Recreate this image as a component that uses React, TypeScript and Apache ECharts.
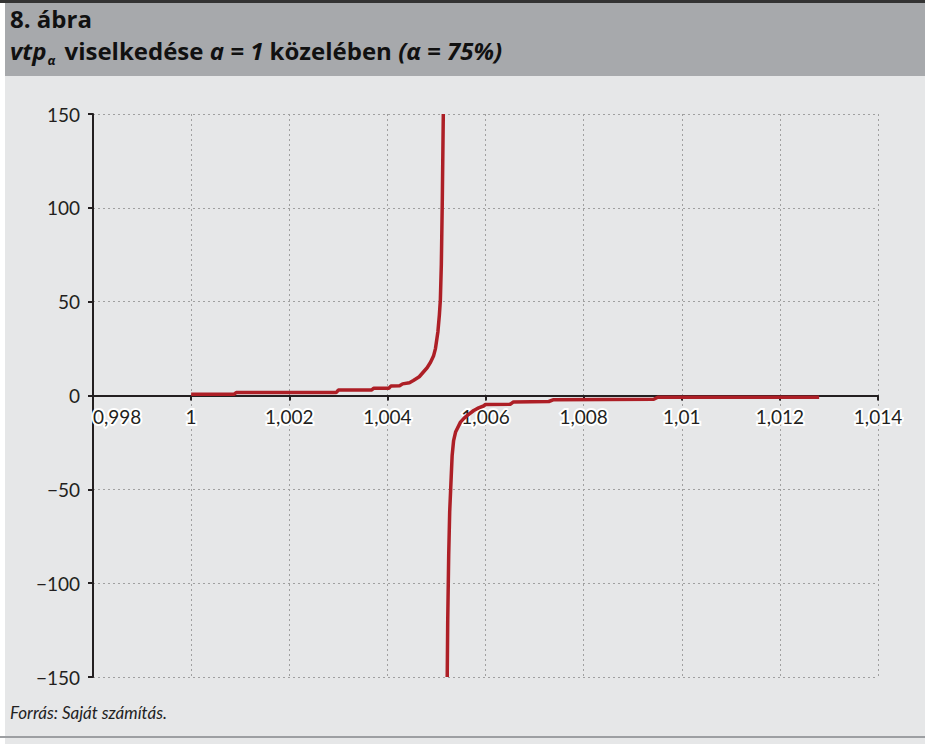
import React, { useEffect, useRef } from "react";
import * as echarts from "echarts";

const xTickMin = 0.998;
const xTickMax = 1.014;
const xTickStep = 0.002;
const yTickMin = -150;
const yTickMax = 150;
const yTickStep = 50;

// branch left of the pole (a < ~1.00515)
const upX = [1.0, 1.00088, 1.00092, 1.00296, 1.003, 1.00368, 1.00372, 1.00403, 1.00407, 1.00425, 1.00431, 1.00445, 1.00453, 1.00465, 1.00473, 1.00481, 1.00488, 1.00494, 1.00498, 1.00503, 1.00506, 1.00508, 1.0051, 1.00512, 1.00514];
const upY = [0.7, 0.7, 1.6, 1.6, 2.9, 2.9, 3.9, 3.9, 5.0, 5.2, 6.2, 6.8, 8.0, 10, 12.4, 14.8, 17.7, 21, 25, 34, 43, 51, 70, 105, 150];

// branch right of the pole
const downX = [1.00522, 1.00523, 1.00525, 1.00527, 1.00529, 1.00532, 1.00535, 1.00539, 1.00549, 1.00556, 1.00563, 1.00576, 1.00586, 1.00596, 1.006, 1.00651, 1.00657, 1.00729, 1.00739, 1.00943, 1.00951, 1.0128];
const downY = [-150, -120, -85, -62, -50, -32, -24, -19.5, -14.2, -12.2, -10.6, -8, -6.6, -5.6, -4.8, -4.6, -3.4, -3.2, -2.2, -2.0, -0.9, -0.9];

const titleLine1 = "8. ábra";
const sourceText = "Forrás: Saját számítás.";

const fmtX = (v: number) => String(Number(v.toFixed(3))).replace(".", ",");
const fmtY = (v: number) => (v < 0 ? "\u2212" + Math.abs(v) : String(v));

const GRID_TOP = 114;
const GRID_BOTTOM = 67;
const CHART_H = 744;

export default function App() {
  const ref = useRef<HTMLDivElement>(null);
  useEffect(() => {
    if (!ref.current) return;
    const chart = echarts.init(ref.current, null, { renderer: "svg" });
    const font = "Lato, 'Open Sans', sans-serif";
    const titleFont = "'Open Sans', Lato, sans-serif";
    const red = "#ad1f26";
    const axisDark = "#231f20";
    const plotH = CHART_H - GRID_TOP - GRID_BOTTOM;
    const zeroFromBottom = (0 - yTickMin) / (yTickMax - yTickMin) * plotH;
    chart.setOption({
      animation: false,
      textStyle: { fontFamily: font },
      graphic: [
        { type: "rect", z: -10, silent: true, shape: { x: 5, y: 0, width: 920, height: 744 }, style: { fill: "#e6e7e8" } },
        { type: "rect", z: -9, silent: true, shape: { x: 5, y: 0, width: 920, height: 76 }, style: { fill: "#a7a9ac" } },
        { type: "rect", z: -8, silent: true, shape: { x: 0, y: 0, width: 925, height: 3 }, style: { fill: "#333333" } },
        { type: "rect", z: -8, silent: true, shape: { x: 0, y: 736, width: 925, height: 2 }, style: { fill: "#9d9fa2" } },
        {
          type: "text", z: 10, silent: true,
          style: { x: 10, y: 6, text: titleLine1, fill: "#111", font: `bold 24px ${titleFont}`, verticalAlign: "top" },
        },
        {
          type: "text", z: 10, silent: true,
          style: {
            x: 10, y: 34, verticalAlign: "top",
            text: "{bi|vtp}{sub|α}{b| viselkedése }{bi|a = 1}{b| közelében }{bi|(α = 75%)}",
            fill: "#111",
            rich: {
              bi: { fontFamily: titleFont, fontSize: 24, fontWeight: "bold", fontStyle: "italic", fill: "#111" },
              b: { fontFamily: titleFont, fontSize: 24, fontWeight: "bold", fill: "#111" },
              sub: { fontFamily: titleFont, fontSize: 13, fontWeight: "bold", fontStyle: "italic", fill: "#111", padding: [19, 3, 0, 1] },
            },
          },
        },
        {
          type: "text", z: 10, silent: true,
          style: { x: 10, y: 712, text: sourceText, fill: "#222", font: `italic 17px ${font}`, verticalAlign: "middle" },
        },
      ],
      grid: { left: 93, top: GRID_TOP, right: 47, bottom: GRID_BOTTOM, containLabel: false, outerBoundsMode: "none" },
      xAxis: {
        type: "value",
        position: "bottom",
        offset: -zeroFromBottom,
        min: xTickMin,
        max: xTickMax,
        interval: xTickStep,
        axisLine: { onZero: false, lineStyle: { color: axisDark, width: 2 } },
        axisTick: { show: true, inside: false, length: 5, lineStyle: { color: axisDark, width: 2 } },
        axisLabel: {
          formatter: fmtX,
          fontFamily: font,
          fontSize: 19,
          color: "#231f20",
          margin: 11,
          textBorderColor: "#ffffff",
          textBorderWidth: 4,
          alignMinLabel: "left",
        },
        splitLine: { show: true, lineStyle: { color: "#a0a0a0", width: 1, type: [2, 3] } },
      },
      yAxis: {
        type: "value",
        min: yTickMin,
        max: yTickMax,
        interval: yTickStep,
        axisLine: { show: true, onZero: false, lineStyle: { color: axisDark, width: 2 } },
        axisTick: { show: true, inside: false, length: 5, lineStyle: { color: axisDark, width: 2 } },
        axisLabel: { formatter: fmtY, fontFamily: font, fontSize: 19, color: "#231f20", margin: 13 },
        splitLine: { show: true, lineStyle: { color: "#a0a0a0", width: 1, type: [2, 3] } },
      },
      series: [
        {
          type: "line",
          data: upX.map((x, i) => [x, upY[i]]),
          showSymbol: false,
          symbol: "none",
          lineStyle: { color: red, width: 3.5 },
          z: 5,
        },
        {
          type: "line",
          data: downX.map((x, i) => [x, downY[i]]),
          showSymbol: false,
          symbol: "none",
          lineStyle: { color: red, width: 3.5 },
          z: 5,
        },
      ],
    });
    return () => chart.dispose();
  }, []);
  return <div ref={ref} style={{ position: "absolute", left: 0, top: 0, width: 925, height: 744 }} />;
}
